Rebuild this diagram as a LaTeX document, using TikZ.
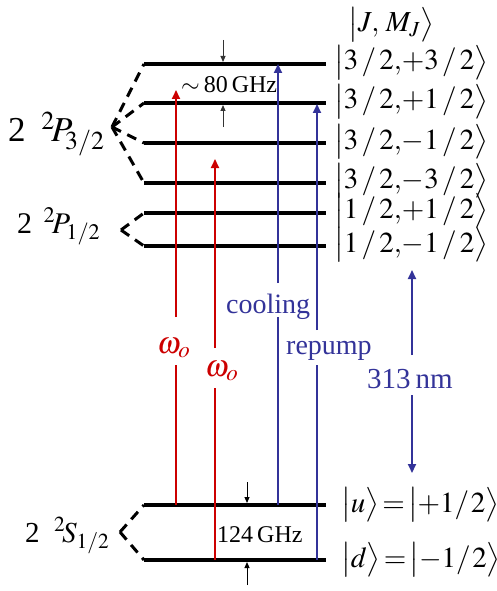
\documentclass[tikz,border=0pt]{standalone}
\usepackage{mathptmx}
\usepackage{fontspec}
\setmainfont{Liberation Serif}
\usetikzlibrary{arrows.meta}
\definecolor{lred}{RGB}{204,0,0}
\definecolor{lblue}{RGB}{51,51,153}
\newcommand\fsz[1]{\fontsize{#1}{#1}\selectfont}
\begin{document}
\begin{tikzpicture}[x=1pt,y=-1pt,
  level/.style={line width=3.5pt},
  conn/.style={line width=3pt, dash pattern=on 10pt off 7pt},
  redline/.style={draw=lred, line width=2pt},
  redarr/.style={redline, -{Triangle[length=9pt,width=8pt]}},
  blueline/.style={draw=lblue, line width=2pt},
  bluearr/.style={blueline, -{Triangle[length=9pt,width=8pt]}},
  gaparr/.style={line width=1pt, draw=black!80, -{Triangle[length=6pt,width=5pt]}},
  ket/.style={anchor=base west, inner sep=0pt, font=\fsz{29}},
  lbl/.style={anchor=base west, inner sep=0pt},
  note/.style={anchor=base west, inner sep=0pt, font=\fsz{24}},
  bluetxt/.style={anchor=base west, inner sep=0pt, text=lblue, font=\fsz{28}},
  omg/.style={anchor=base west, inner sep=0pt, text=lred, font=\fsz{31}}
]
\useasboundingbox (0,0) rectangle (497,591);

% level end points
\foreach \n/\yy in {1/64,2/103,3/143,4/183,5/213,6/246,u/505,d/560}{
  \coordinate (L\n w) at (144,\yy);
  \coordinate (L\n e) at (326,\yy);
}
\foreach \n in {1,2,3,4,5,6,u,d}{ \draw[level] (L\n w) -- (L\n e); }

% fine-structure connectors
\coordinate (TP3) at (112,127);
\coordinate (TP1) at (121,230);
\coordinate (TS) at (120,532);
\foreach \n in {1,2,3,4}{ \draw[conn] (TP3) -- (L\n w); }
\foreach \n in {5,6}{ \draw[conn] (TP1) -- (L\n w); }
\foreach \n in {u,d}{ \draw[conn] (TS) -- (L\n w); }

% left labels
\node[lbl, font=\fsz{35}] (lP3) at (8,142) {2\hspace{0.45em}${}^{2}\!P_{\kern-0.08em 3/2}$};
\node[lbl, font=\fsz{30}] (lP1) at (17,233) {2\hspace{0.38em}${}^{2}\!P_{1/2}$};
\node[lbl, font=\fsz{29}] (lS) at (25,542) {2\hspace{0.5em}${}^{2}\!S_{1/2}$};

% kets
\node[ket] (hdr) at (348,32) {$\bigl|J,\,M_{J}\bigr\rangle$};
\node[ket] (k1) at (334,70) {$\bigl|3\,/\,2{,}{+}3\,/\,2\bigr\rangle$};
\node[ket] (k2) at (334,109) {$\bigl|3\,/\,2{,}{+}1\,/\,2\bigr\rangle$};
\node[ket] (k3) at (334,149) {$\bigl|3\,/\,2{,}{-}1\,/\,2\bigr\rangle$};
\node[ket] (k4) at (334,188) {$\bigl|3\,/\,2{,}{-}3\,/\,2\bigr\rangle$};
\node[ket] (k5) at (334,218) {$\bigl|1\,/\,2{,}{+}1\,/\,2\bigr\rangle$};
\node[ket] (k6) at (334,252) {$\bigl|1\,/\,2{,}{-}1\,/\,2\bigr\rangle$};
\node[ket] (ku) at (341,512) {$\bigl|u\bigr\rangle\mkern2mu{=}\mkern2mu\bigl|{+}1/\mkern1mu2\bigr\rangle$};
\node[ket] (kd) at (341,567) {$\bigl|d\bigr\rangle\mkern2mu{=}\mkern2mu\bigl|{-}1/\mkern1mu2\bigr\rangle$};

% red arrows (omega_o)
\coordinate (r1a) at (176,505); \coordinate (r1b) at (176,365);
\coordinate (r1c) at (176,317); \coordinate (r1d) at (176,90);
\draw[redline] (r1a) -- (r1b);
\draw[redarr] (r1c) -- (r1d);
\node[omg] (w1) at (157,353) {$\omega_{o}$};
\coordinate (r2a) at (215,560); \coordinate (r2b) at (215,388);
\coordinate (r2c) at (215,348); \coordinate (r2d) at (215,159);
\draw[redline] (r2a) -- (r2b);
\draw[redarr] (r2c) -- (r2d);
\node[omg] (w2) at (205,376) {$\omega_{o}$};

% blue arrows
\coordinate (c1a) at (278,505); \coordinate (c1b) at (278,317);
\coordinate (c1c) at (278,283); \coordinate (c1d) at (278,64);
\draw[blueline] (c1a) -- (c1b);
\draw[bluearr] (c1c) -- (c1d);
\node[bluetxt] (cool) at (226,313) {cooling};
\coordinate (p1a) at (317,560); \coordinate (p1b) at (317,365);
\coordinate (p1c) at (317,330); \coordinate (p1d) at (317,104);
\draw[blueline] (p1a) -- (p1b);
\draw[bluearr] (p1c) -- (p1d);
\node[bluetxt] (rep) at (286,354) {repump};

% 313 nm
\coordinate (n1) at (412,270); \coordinate (n2) at (412,355);
\coordinate (n3) at (412,395); \coordinate (n4) at (412,473);
\draw[bluearr] (n2) -- (n1);
\draw[bluearr] (n3) -- (n4);
\node[bluetxt, font=\fsz{29}] (nm) at (367,388) {313\,nm};

% splittings
\coordinate (g1a) at (223,40); \coordinate (g1b) at (223,62);
\coordinate (g1c) at (223,127); \coordinate (g1d) at (223,105);
\draw[gaparr] (g1a) -- (g1b);
\draw[gaparr] (g1c) -- (g1d);
\node[note] (f80) at (181,93) {$\sim$\,80\,GHz};
\coordinate (g2a) at (247,482); \coordinate (g2b) at (247,503);
\coordinate (g2c) at (247,585); \coordinate (g2d) at (247,562);
\draw[gaparr, draw=black] (g2a) -- (g2b);
\draw[gaparr, draw=black] (g2c) -- (g2d);
\node[note] (f124) at (217,542) {124\,GHz};
\end{tikzpicture}
\end{document}
